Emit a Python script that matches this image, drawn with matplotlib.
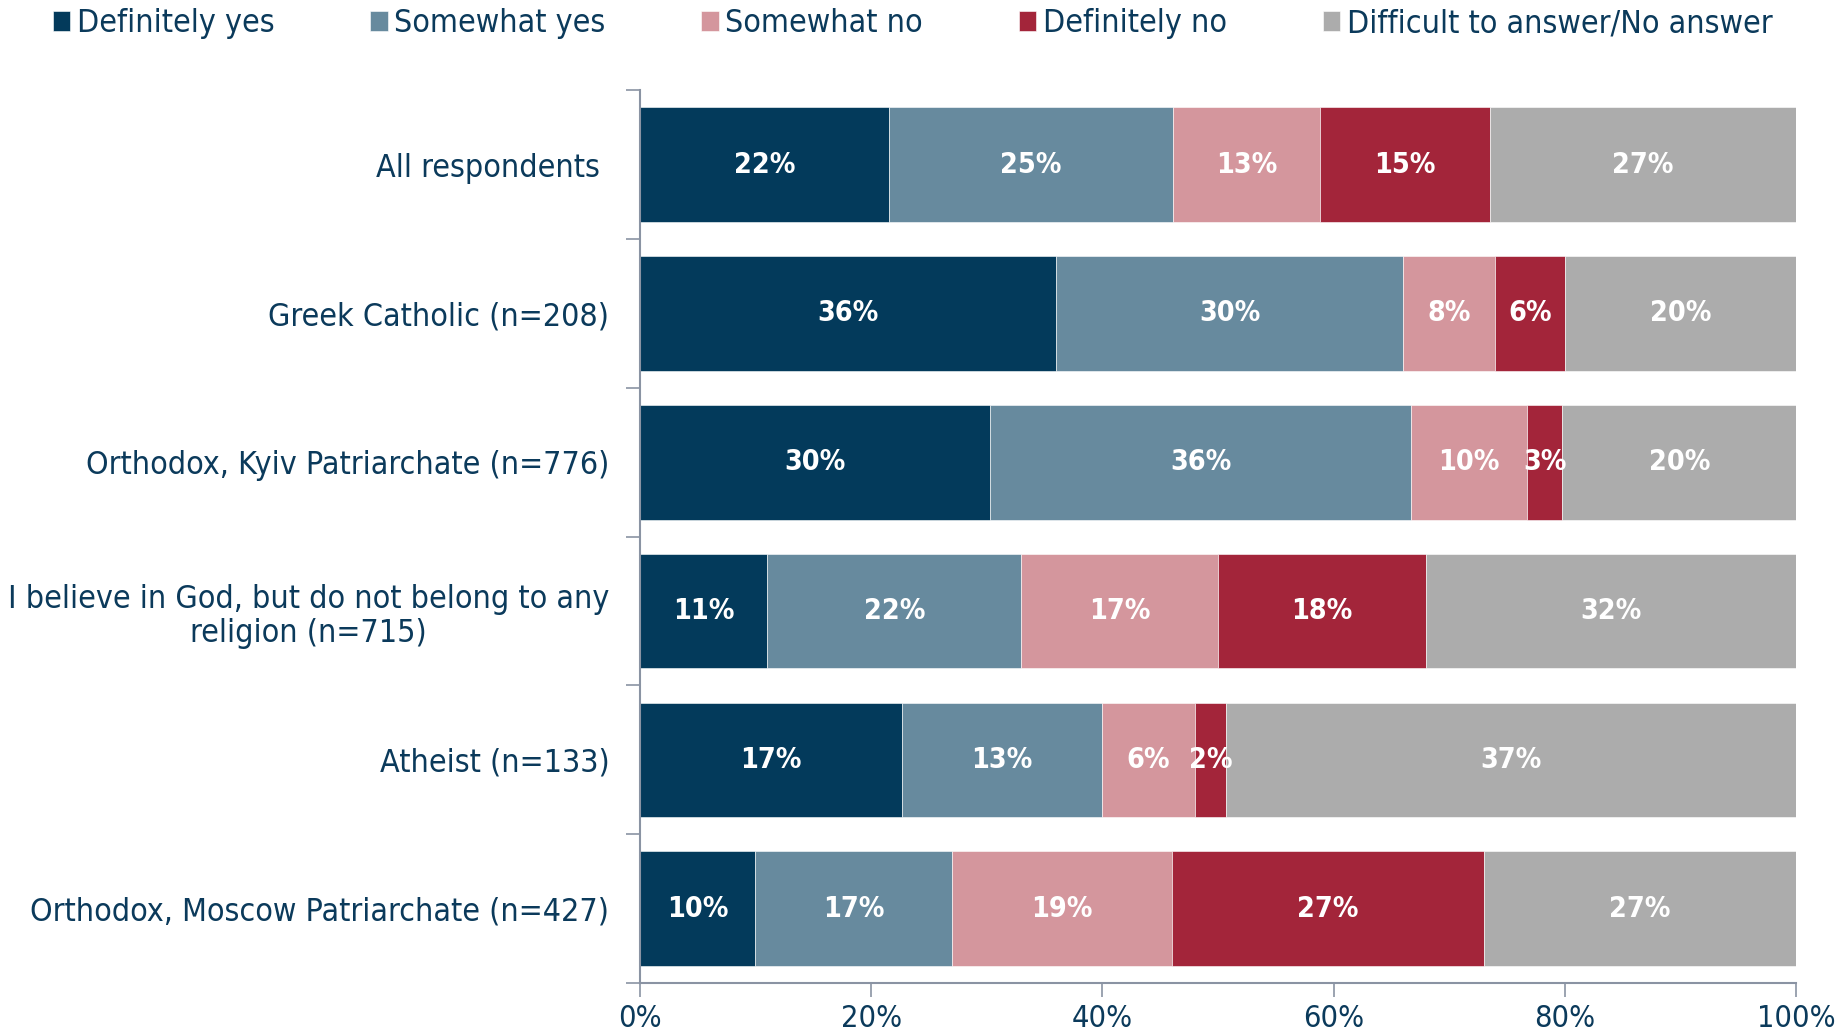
import matplotlib as mpl
mpl.use('Agg')
import matplotlib.pyplot as plt
import numpy as np

""" data read off the reference """
groups = ['All respondents ',
          'Greek Catholic (n=208)',
          'Orthodox, Kyiv Patriarchate (n=776)',
          'I believe in God, but do not belong to any\nreligion (n=715)',
          'Atheist (n=133)',
          'Orthodox, Moscow Patriarchate (n=427)']
answers = ['Definitely yes', 'Somewhat yes', 'Somewhat no', 'Definitely no',
           'Difficult to answer/No answer']
definitely_yes = [22, 36, 30, 11, 17, 10]
somewhat_yes = [25, 30, 36, 22, 13, 17]
somewhat_no = [13, 8, 10, 17, 6, 19]
definitely_no = [15, 6, 3, 18, 2, 27]
no_answer = [27, 20, 20, 32, 37, 27]
xticks = [0, 20, 40, 60, 80, 100]

colors = ['#033a5b', '#678a9e', '#d4969d', '#a3253a', '#acacac']
navy = '#0b3a5b'
spine = '#8a93a3'

plt.rcParams['font.family'] = ['DejaVu Sans']
plt.rcParams['font.stretch'] = 'condensed'

series = np.array([definitely_yes, somewhat_yes, somewhat_no, definitely_no, no_answer], dtype=float)
shares = series / series.sum(axis=0) * 100  # 100% stacked

fig = plt.figure(figsize=(18.44, 10.36), dpi=100)
ax = fig.add_axes([0.347, 0.051, 0.627, 0.862])

ypos = np.arange(len(groups))
left = np.zeros(len(groups))
handles = []
for i, name in enumerate(answers):
    b = ax.barh(ypos, shares[i], left=left, height=0.77, color=colors[i],
                edgecolor='white', linewidth=0.4, label=name)
    handles.append(b)
    for y, w, l, v in zip(ypos, shares[i], left, series[i]):
        ax.text(l + w / 2, y, '%d%%' % v, ha='center', va='center',
                color='white', fontsize=20.5, fontweight='bold')
    left += shares[i]

ax.set_ylim(len(groups) - 0.5, -0.5)
ax.set_xlim(0, 100)
ax.set_yticks(ypos)
ax.set_yticklabels(groups, fontsize=23, color=navy, multialignment='center',
                   linespacing=1.15)
ax.tick_params(axis='y', which='major', length=0, pad=22)
ax.set_yticks(np.arange(-0.5, len(groups)), minor=True)
ax.tick_params(axis='y', which='minor', length=10, color=spine, width=1.2)
ax.set_xticks(xticks)
ax.set_xticklabels(['%d%%' % t for t in xticks], fontsize=22, color=navy)
ax.tick_params(axis='x', length=10, color=spine, width=1.2, pad=5)
for s in ['top', 'right']:
    ax.spines[s].set_visible(False)
for s in ['left', 'bottom']:
    ax.spines[s].set_color(spine)
    ax.spines[s].set_linewidth(1.5)

fig.legend(handles=handles, loc='upper left', bbox_to_anchor=(0.0287, 0.992), ncol=5,
           frameon=False, fontsize=23, labelcolor=navy, handlelength=0.55,
           handleheight=0.55, handletextpad=0.2, columnspacing=3.0,
           borderpad=0, borderaxespad=0)

plt.savefig('out.png')
